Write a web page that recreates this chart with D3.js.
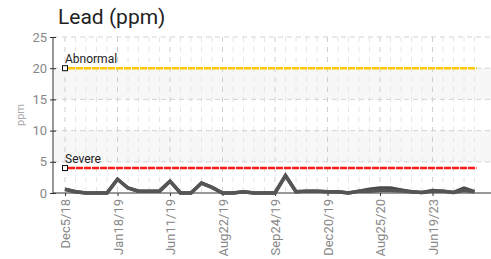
<html>
<head>
	<title>Lead (ppm)</title>
	<style>
		body { margin: 0; background: white; }
		text { font-family: "Liberation Sans Narrow", "Roboto", sans-serif; }
	</style>
</head>
<body>
	<div id="chart"></div>
	<script src="https://d3js.org/d3.v7.min.js" charset="utf-8"></script>
	<script>
		// one sample per slot, a date label on every 5th
		var tickLabels = ["Dec5/18", "Jan18/19", "Jun11/19", "Aug22/19", "Sep24/19", "Dec20/19", "Aug25/20", "Jun19/23"];
		var leadA = [0.6, 0.2, 0, 0, 0, 2.2, 0.8, 0.3, 0.3, 0.3,
					 1.9, 0, 0, 1.6, 0.9, 0, 0, 0.2, 0, 0,
					 0, 2.8, 0.2, 0.3, 0.3, 0.2, 0.2, 0, 0.3, 0.6,
					 0.8, 0.8, 0.5, 0.2, 0.1, 0.4, 0.3, 0.1, 0.8, 0.2];
		var leadB = [0.6, 0.2, 0, 0, 0, 2.2, 0.8, 0.3, 0.3, 0.3,
					 1.9, 0, 0, 1.6, 0.9, 0, 0, 0.2, 0, 0,
					 0, 2.8, 0.2, 0.3, 0.3, 0.2, 0.2, 0, 0.3, 0.3,
					 0.4, 0.4, 0.3, 0.2, 0.1, 0.3, 0.3, 0.1, 0.4, 0.2];
		var limitNames = ["Abnormal", "Severe"];
		var limitValues = [20, 4];
		var limitColors = ["#ffc800", "#ff1a1a"];
		var yTicks = [0, 5, 10, 15, 20, 25];

		var chartW = 491, chartH = 259;
		var plotLeft = 53, plotTop = 37, plotBottom = 193;

		var svg = d3.select("#chart").append("svg")
			.attr("width", chartW).attr("height", chartH);

		var idx = d3.range(leadA.length);
		var x = d3.scalePoint().domain(idx).range([65, 474.5]);
		var y = d3.scaleLinear().domain([0, 25]).range([plotBottom, plotTop]);

		// alternating bands
		[[5, 10], [15, 20]].forEach(function(b) {
			svg.append("rect")
				.attr("x", plotLeft).attr("y", y(b[1]))
				.attr("width", chartW - plotLeft).attr("height", y(b[0]) - y(b[1]))
				.attr("fill", "#f7f7f7");
		});

		// vertical grid: minor at every sample, major on labelled ones
		svg.append("g").selectAll("line").data(idx).enter().append("line")
			.attr("x1", function(d) { return x(d); }).attr("x2", function(d) { return x(d); })
			.attr("y1", plotTop).attr("y2", plotBottom)
			.attr("stroke", function(d) { return d % 5 == 0 ? "#cfcfcf" : "#e6e6e6"; })
			.attr("stroke-width", 1)
			.attr("stroke-dasharray", "5,5");

		// horizontal grid
		svg.append("g").selectAll("line").data(yTicks.slice(1)).enter().append("line")
			.attr("x1", plotLeft).attr("x2", chartW)
			.attr("y1", function(d) { return y(d); }).attr("y2", function(d) { return y(d); })
			.attr("stroke", "#d4d4d4")
			.attr("stroke-dasharray", "5,4");

		// y axis
		var yAxis = svg.append("g").attr("transform", "translate(" + plotLeft + ",0)")
			.call(d3.axisLeft(y).tickValues(yTicks).tickSize(3).tickPadding(3));
		yAxis.selectAll(".tick line").attr("x1", 3).attr("x2", -3).attr("stroke", "#333");
		yAxis.select(".domain").attr("d", "M0," + plotTop + "V" + plotBottom).attr("stroke", "#333");
		yAxis.selectAll("text").attr("fill", "#888").attr("font-size", 13)
			.attr("font-family", "Liberation Sans Narrow, Roboto, sans-serif");

		// x axis
		var xAxis = svg.append("g").attr("transform", "translate(0," + plotBottom + ")")
			.call(d3.axisBottom(x)
				.tickValues(idx.filter(function(d) { return d % 5 == 0; }))
				.tickFormat(function(d) { return tickLabels[d / 5]; })
				.tickSize(3));
		xAxis.select(".domain").attr("d", "M" + plotLeft + ",0H" + chartW).attr("stroke", "#333");
		xAxis.selectAll(".tick line").attr("stroke", "#333");
		xAxis.selectAll("text")
			.attr("fill", "#888").attr("font-size", 13)
			.attr("font-family", "Liberation Sans Narrow, Roboto, sans-serif")
			.attr("text-anchor", "end")
			.attr("transform", "rotate(-90)")
			.attr("x", -6).attr("y", 0).attr("dy", "0.35em");

		svg.append("text")
			.attr("transform", "translate(24," + ((plotTop + plotBottom) / 2) + ") rotate(-90)")
			.attr("text-anchor", "middle")
			.attr("fill", "#aaa").attr("font-size", 11)
			.attr("font-family", "DejaVu Sans, sans-serif")
			.text("ppm");

		// limit lines
		limitValues.forEach(function(v, k) {
			svg.append("line")
				.attr("x1", x(0) + 3).attr("x2", x(idx.length - 1) + 2)
				.attr("y1", y(v)).attr("y2", y(v))
				.attr("stroke", limitColors[k]).attr("stroke-width", 2.5)
				.attr("stroke-dasharray", "7,1");
			svg.append("rect")
				.attr("x", x(0) - 2.5).attr("y", y(v) - 2.5)
				.attr("width", 5).attr("height", 5)
				.attr("fill", "white").attr("stroke", "#111").attr("stroke-width", 1);
			svg.append("text")
				.attr("x", x(0)).attr("y", y(v) - 5)
				.attr("fill", "#222").attr("font-size", 12)
				.text(limitNames[k]);
		});

		// lead series
		var line = d3.line()
			.x(function(d, i) { return x(i); })
			.y(function(d) { return y(d); });

		[leadA, leadB].forEach(function(s, k) {
			svg.append("path")
				.datum(s)
				.attr("d", line)
				.attr("fill", "none")
				.attr("stroke", k == 0 ? "#4a4a4a" : "#555")
				.attr("stroke-width", 3.5)
				.attr("stroke-linejoin", "miter");
		});

		svg.append("text")
			.attr("x", 58).attr("y", 24)
			.attr("fill", "#222").attr("font-size", 21)
			.attr("font-family", "DejaVu Sans, sans-serif")
			.text("Lead (ppm)");
	</script>
</body>
</html>
